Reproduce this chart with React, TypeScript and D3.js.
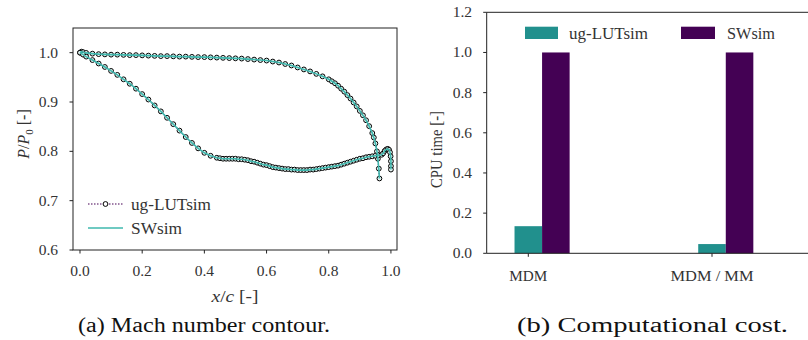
import React from 'react'
import * as d3 from 'd3'

// pressure ratio along the blade
const upperSurface: [number, number][] = [
  [0, 1.0], [0.005, 1.002], [0.01, 1.001], [0.02, 0.9995], [0.04, 0.998], [0.06, 0.997],
  [0.08, 0.9965], [0.1, 0.996], [0.12, 0.996], [0.14, 0.9955], [0.16, 0.995], [0.18, 0.995],
  [0.2, 0.9945], [0.22, 0.994], [0.24, 0.9935], [0.26, 0.993], [0.28, 0.993], [0.3, 0.9925],
  [0.32, 0.992], [0.34, 0.992], [0.36, 0.9915], [0.38, 0.991], [0.4, 0.991], [0.42, 0.9905],
  [0.44, 0.99], [0.46, 0.9895], [0.48, 0.989], [0.5, 0.9885], [0.52, 0.988], [0.54, 0.987],
  [0.56, 0.986], [0.58, 0.985], [0.6, 0.984], [0.62, 0.982], [0.64, 0.98], [0.66, 0.977],
  [0.68, 0.974], [0.7, 0.97], [0.72, 0.966], [0.74, 0.962], [0.76, 0.957], [0.78, 0.952],
  [0.8, 0.946], [0.81, 0.942], [0.82, 0.938], [0.83, 0.933], [0.84, 0.927], [0.85, 0.921],
  [0.86, 0.914], [0.87, 0.907], [0.88, 0.899], [0.89, 0.891], [0.9, 0.882], [0.91, 0.873],
  [0.92, 0.863], [0.93, 0.851], [0.94, 0.837], [0.945, 0.828], [0.95, 0.816], [0.955, 0.8],
  [0.958, 0.785], [0.961, 0.765], [0.963, 0.745],
]

const lowerSurface: [number, number][] = [
  [0, 1.0], [0.01, 0.996], [0.02, 0.992], [0.04, 0.985], [0.06, 0.978], [0.08, 0.971],
  [0.1, 0.963], [0.12, 0.955], [0.14, 0.946], [0.16, 0.937], [0.18, 0.927], [0.2, 0.916],
  [0.22, 0.905], [0.24, 0.893], [0.26, 0.881], [0.28, 0.868], [0.3, 0.855], [0.32, 0.842],
  [0.34, 0.829], [0.36, 0.817], [0.38, 0.806], [0.4, 0.797], [0.42, 0.791], [0.44, 0.787],
  [0.45, 0.786], [0.46, 0.785], [0.47, 0.785], [0.48, 0.785], [0.49, 0.785], [0.5, 0.785],
  [0.51, 0.784], [0.52, 0.784], [0.53, 0.783], [0.54, 0.782], [0.55, 0.78], [0.56, 0.779],
  [0.57, 0.777], [0.58, 0.775], [0.59, 0.773], [0.6, 0.772], [0.61, 0.77], [0.62, 0.768],
  [0.63, 0.767], [0.64, 0.766], [0.65, 0.765], [0.66, 0.764], [0.67, 0.764], [0.68, 0.763],
  [0.69, 0.763], [0.7, 0.762], [0.71, 0.762], [0.72, 0.762], [0.73, 0.762], [0.74, 0.763],
  [0.75, 0.763], [0.76, 0.764], [0.77, 0.765], [0.78, 0.766], [0.79, 0.767], [0.8, 0.768],
  [0.81, 0.769], [0.82, 0.77], [0.83, 0.771], [0.84, 0.773], [0.85, 0.775], [0.86, 0.777],
  [0.87, 0.779], [0.88, 0.781], [0.89, 0.783], [0.9, 0.785], [0.91, 0.786], [0.92, 0.788],
  [0.93, 0.789], [0.94, 0.79], [0.95, 0.791], [0.96, 0.792], [0.97, 0.793], [0.975, 0.796],
  [0.98, 0.801], [0.985, 0.804], [0.99, 0.805], [0.994, 0.803], [0.997, 0.798], [0.999, 0.79],
  [1.0, 0.78], [1.0, 0.77], [1.0, 0.763],
]

const xTicksA = [0, 0.2, 0.4, 0.6, 0.8, 1.0]
const yTicksA = [0.6, 0.7, 0.8, 0.9, 1.0]

// normalised CPU time
const cases = ['MDM', 'MDM / MM']
const lutTime = [0.135, 0.046]
const swTime = [1.0, 1.0]
const yTicksB = [0, 0.2, 0.4, 0.6, 0.8, 1.0, 1.2]

const TEAL = '#21908d'
const PURPLE = '#440154'
const LINE = '#3fb8ae'
const INK = '#333'
const FONT = '"Liberation Serif", "DejaVu Serif", serif'

export default function App() {
  // panel (a)
  const xA = d3.scaleLinear().domain([-0.0225, 1.0195]).range([73, 397])
  const yA = d3.scaleLinear().domain([0.6, 1.05]).range([250, 28])
  const line = d3.line<[number, number]>().x(d => xA(d[0])).y(d => yA(d[1]))
  const curves = [upperSurface, lowerSurface]

  // panel (b)
  const xB = d3.scaleLinear().domain([0, 1]).range([528.3, 712])
  const yB = d3.scaleLinear().domain([0, 1.2]).range([253.3, 12.3])
  const bw = xB(0.15) - xB(0)
  const leftB = xB(-0.2265)
  const caseWidth = [38, 83]

  const fit = { lengthAdjust: 'spacingAndGlyphs' as const }

  return (
    <svg width={808} height={340} style={{ position: 'absolute', left: 0, top: 0, background: '#fff' }}
      fontFamily={FONT}>
      {/* ---- (a) ---- */}
      {curves.map((c, i) => (
        <path key={'d' + i} d={line(c) || ''} fill="none" stroke={PURPLE} strokeWidth={1.2} strokeDasharray="1.5 1.5" />
      ))}
      {curves.map((c, i) => c.map((d, j) => (
        <circle key={`m${i}-${j}`} cx={xA(d[0])} cy={yA(d[1])} r={2.4} fill="#e6f3f1" stroke="#000" strokeWidth={1} />
      )))}
      {curves.map((c, i) => (
        <path key={'s' + i} d={line(c) || ''} fill="none" stroke={LINE} strokeWidth={1.6} />
      ))}
      <rect x={73} y={28} width={324} height={222} fill="none" stroke="#222" strokeWidth={1} />
      {xTicksA.map(t => (
        <g key={'xa' + t}>
          <line x1={xA(t)} x2={xA(t)} y1={250} y2={253.5} stroke="#222" />
          <text x={xA(t)} y={276} textAnchor="middle" fontSize={15.5} fill={INK}>{t.toFixed(1)}</text>
        </g>
      ))}
      {yTicksA.map(t => (
        <g key={'ya' + t}>
          <line x1={69.5} x2={73} y1={yA(t)} y2={yA(t)} stroke="#222" />
          <text x={58} y={yA(t) + 5} textAnchor="end" fontSize={15.5} fill={INK}>{t.toFixed(1)}</text>
        </g>
      ))}
      <text x={235} y={302} textAnchor="middle" fontSize={16} fill={INK} textLength={47} {...fit}>
        <tspan fontStyle="italic">x</tspan>/<tspan fontStyle="italic">c</tspan> [-]
      </text>
      <text transform="translate(29,134) rotate(-90)" textAnchor="middle" fontSize={16} fill={INK}>
        <tspan fontStyle="italic">P</tspan>/<tspan fontStyle="italic">P</tspan><tspan fontSize={11} dy={4}>0</tspan><tspan dy={-4}> [-]</tspan>
      </text>
      {/* legend (a) */}
      <line x1={88} x2={123} y1={204} y2={204} stroke={PURPLE} strokeWidth={1.2} strokeDasharray="1.5 1.5" />
      <circle cx={105.5} cy={204} r={2.4} fill="#fff" stroke="#000" strokeWidth={1} />
      <text x={131} y={209.5} fontSize={16} fill={INK} textLength={80} {...fit}>ug-LUTsim</text>
      <line x1={88} x2={123} y1={228} y2={228} stroke={LINE} strokeWidth={1.6} />
      <text x={131} y={233.5} fontSize={16} fill={INK} textLength={51} {...fit}>SWsim</text>
      <text x={78} y={332} fontSize={20} fill="#111" textLength={252} {...fit}>(a) Mach number contour.</text>

      {/* ---- (b) ---- */}
      {cases.map((c, i) => (
        <g key={'bar' + c}>
          <rect x={xB(i) - bw / 2} y={yB(lutTime[i])} width={bw} height={yB(0) - yB(lutTime[i])} fill={TEAL} />
          <rect x={xB(i) + bw / 2} y={yB(swTime[i])} width={bw} height={yB(0) - yB(swTime[i])} fill={PURPLE} />
        </g>
      ))}
      <line x1={leftB} x2={leftB} y1={yB(1.2)} y2={yB(0)} stroke="#222" />
      <line x1={leftB} x2={808} y1={yB(0)} y2={yB(0)} stroke="#222" />
      <line x1={leftB} x2={808} y1={yB(1.2)} y2={yB(1.2)} stroke="#222" />
      {yTicksB.map(t => (
        <g key={'yb' + t}>
          <line x1={leftB - 3.5} x2={leftB} y1={yB(t)} y2={yB(t)} stroke="#222" />
          <text x={472} y={yB(t) + 5} textAnchor="end" fontSize={15.5} fill={INK}>{t.toFixed(1)}</text>
        </g>
      ))}
      {cases.map((c, i) => (
        <g key={'xb' + c}>
          <line x1={xB(i)} x2={xB(i)} y1={yB(0)} y2={yB(0) + 3.5} stroke="#222" />
          <text x={xB(i) - caseWidth[i] / 2} y={281} fontSize={15} fill={INK} textLength={caseWidth[i]} {...fit}>{c}</text>
        </g>
      ))}
      <text transform="translate(442,188) rotate(-90)" fontSize={17} fill={INK} textLength={77} {...fit}>CPU time [-]</text>
      {/* legend (b) */}
      <rect x={525} y={26.7} width={33} height={12.3} fill={TEAL} />
      <text x={569} y={38.5} fontSize={16} fill={INK} textLength={79} {...fit}>ug-LUTsim</text>
      <rect x={681} y={26.7} width={34} height={12.3} fill={PURPLE} />
      <text x={727} y={38.5} fontSize={16} fill={INK} textLength={48} {...fit}>SWsim</text>
      <text x={517} y={332} fontSize={20} fill="#111" textLength={271} {...fit}>(b) Computational cost.</text>
    </svg>
  )
}
